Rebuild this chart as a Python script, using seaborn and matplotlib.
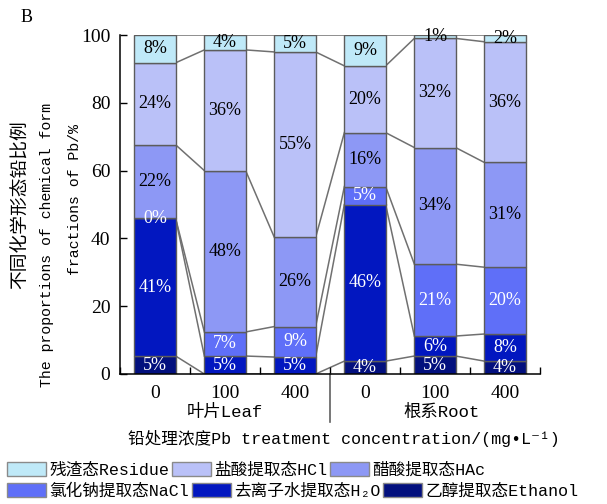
import numpy as np
import pandas as pd
import matplotlib
matplotlib.use("Agg")
import matplotlib.pyplot as plt
import matplotlib.transforms as mtransforms
from matplotlib.patches import Patch
from matplotlib.font_manager import FontProperties
import seaborn as sns

# Samples: organ x Pb treatment concentration (mg/L)
samples = ["Leaf-0", "Leaf-100", "Leaf-400", "Root-0", "Root-100", "Root-400"]
tick_labels = ["0", "100", "400", "0", "100", "400"]
group_names = ["叶片Leaf", "根系Root"]

# Proportion (%) of each chemical form, stacked bottom -> top
ethanol = [5.3, 0.0, 0.0, 3.8, 5.3, 3.8]
h2o = [40.6, 5.3, 5.0, 46.2, 5.9, 8.0]
nacl = [0.0, 7.1, 9.0, 5.3, 21.2, 19.7]
hac = [21.7, 47.6, 26.3, 15.9, 34.4, 30.9]
hcl = [24.2, 35.6, 54.7, 19.7, 32.2, 35.6]
residue = [8.2, 4.4, 5.0, 9.1, 1.0, 2.0]

layer_names = ["Ethanol", "H2O", "NaCl", "HAc", "HCl", "Residue"]
layer_values = [ethanol, h2o, nacl, hac, hcl, residue]
legend_labels = ["残渣态Residue", "盐酸提取态HCl", "醋酸提取态HAc",
                 "氯化钠提取态NaCl", "去离子水提取态H₂O", "乙醇提取态Ethanol"]

colors = {
    "Ethanol": "#03107e",
    "H2O": "#0217c0",
    "NaCl": "#5f6ff8",
    "HAc": "#8d98f5",
    "HCl": "#bac1f8",
    "Residue": "#bfe9f8",
}
label_colors = {"Ethanol": "white", "H2O": "white", "NaCl": "white",
                "HAc": "black", "HCl": "black", "Residue": "black"}
# segments whose value label is not printed (empty ethanol fractions)
unlabeled = {("Ethanol", 1), ("Ethanol", 2)}

serif = FontProperties(family=["Liberation Serif", "DejaVu Serif"], size=13)
tick_font = FontProperties(family=["Liberation Serif", "DejaVu Serif"], size=14)
mixed_fam = ["Liberation Mono", "Noto Sans CJK SC", "DejaVu Sans"]

W, H = 607, 504
fig = plt.figure(figsize=(W / 100, H / 100), dpi=100)
ax = fig.add_axes([120 / W, 1 - 374 / H, 420 / W, 339 / H])

bar_w = 0.59
edge = "#5c5c5c"
df = pd.DataFrame({"sample": samples})
bottoms = np.zeros(len(samples))
tops = []
for name, vals in zip(layer_names, layer_values):
    df[name] = vals
    sns.barplot(data=df, x="sample", y=name, order=samples, bottom=bottoms,
                color=colors[name], saturation=1, width=bar_w, errorbar=None,
                edgecolor=edge, linewidth=1.0, ax=ax, zorder=2)
    for i, v in enumerate(vals):
        if (name, i) in unlabeled:
            continue
        ax.text(i, bottoms[i] + v / 2, f"{v:.0f}%", ha="center", va="center",
                color=label_colors[name], fontproperties=serif, zorder=4)
    bottoms = bottoms + np.array(vals, dtype=float)
    tops.append(bottoms.copy())

# connector lines between neighbouring bars at every stack boundary
for lvl in tops:
    for i in range(len(samples) - 1):
        ax.plot([i + bar_w / 2, i + 1 - bar_w / 2], [lvl[i], lvl[i + 1]],
                color="#707070", lw=1.1, zorder=1)

ax.set_xlim(-0.5, len(samples) - 0.5)
ax.set_ylim(0, 100)
ax.set_yticks(np.arange(0, 101, 20))
ax.set_xticks(np.arange(len(samples)))
ax.set_xticklabels(tick_labels)
ax.set_xticks(np.arange(-0.5, len(samples), 1.0), minor=True)
ax.tick_params(axis="x", which="major", length=0, pad=8)
ax.tick_params(axis="x", which="minor", direction="in", length=5, width=1)
ax.tick_params(axis="y", direction="in", length=5, width=1, pad=7)
for lab in ax.get_xticklabels() + ax.get_yticklabels():
    lab.set_fontproperties(tick_font)
ax.set_xlabel("")
ax.set_ylabel("")
for s in ["top", "right"]:
    ax.spines[s].set_visible(False)
for s in ["left", "bottom"]:
    ax.spines[s].set_color("black")
    ax.spines[s].set_linewidth(1.1)

# group labels and divider between leaf and root
trans = mtransforms.blended_transform_factory(ax.transData, ax.transAxes)
ax.text(1.0, -0.112, group_names[0], transform=trans, ha="center", va="center",
        family=mixed_fam, fontsize=12.5)
ax.text(4.1, -0.112, group_names[1], transform=trans, ha="center", va="center",
        family=mixed_fam, fontsize=12.5)
ax.plot([2.5, 2.5], [0, -0.142], transform=trans, color="#606060", lw=1.2,
        clip_on=False)
ax.text(2.7, -0.189, "铅处理浓度Pb treatment concentration/(mg•L⁻¹)",
        transform=trans, ha="center", va="center", family=mixed_fam, fontsize=12)

# y-axis title (three lines)
fig.text(20 / W, 1 - 205 / H, "不同化学形态铅比例", rotation=90, ha="center",
         va="center", family=["Noto Sans CJK SC", "DejaVu Sans"], fontsize=13.5)
fig.text(47 / W, 1 - 245 / H, "The proportions of chemical form", rotation=90,
         ha="center", va="center", family=mixed_fam, fontsize=10.7)
fig.text(75 / W, 1 - 200 / H, "fractions of Pb/%", rotation=90,
         ha="center", va="center", family=mixed_fam, fontsize=10.7)

fig.text(27 / W, 1 - 17 / H, "B", ha="center", va="center",
         family=["Liberation Serif"], fontsize=13)

# legend in two flowing rows
legend_order = ["Residue", "HCl", "HAc", "NaCl", "H2O", "Ethanol"]
handles = [Patch(facecolor=colors[n], edgecolor="#8a8a8a", linewidth=1.0)
           for n in legend_order]
prop = FontProperties(family=mixed_fam, size=12)
for row, yc in enumerate([470, 491]):
    sl = slice(3 * row, 3 * row + 3)
    fig.legend(handles[sl], legend_labels[sl], ncol=3, loc="center left",
               bbox_to_anchor=(7 / W, 1 - yc / H), frameon=False, prop=prop,
               handlelength=2.35, handleheight=0.9, handletextpad=0.2,
               columnspacing=0.15, borderpad=0, borderaxespad=0)

fig.savefig("out.png", dpi=100)
